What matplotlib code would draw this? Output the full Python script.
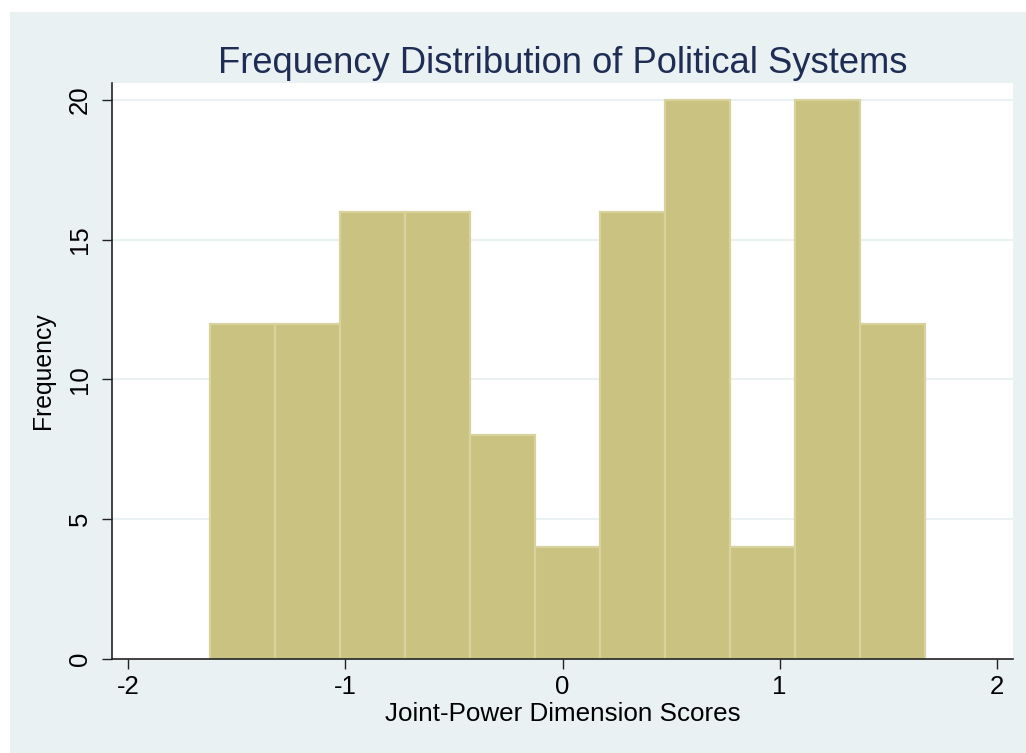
import numpy as np
import matplotlib
matplotlib.use("Agg")
import matplotlib.pyplot as plt
from matplotlib.patches import Rectangle

plt.rcParams['font.family'] = ['Liberation Sans', 'DejaVu Sans']

# Data
counts = [12, 12, 16, 16, 8, 4, 16, 20, 4, 20, 12]
bin_start = -1.623
bin_width = 0.2994
x_ticks = [-2, -1, 0, 1, 2]
y_ticks = [0, 5, 10, 15, 20]
title = "Frequency Distribution of Political Systems"
xlabel = "Joint-Power Dimension Scores"
ylabel = "Frequency"

edges = bin_start + bin_width * np.arange(len(counts) + 1)

W, H = 1026, 753
fig = plt.figure(figsize=(W / 100, H / 100), dpi=100)
fig.patch.set_facecolor('white')
bg = Rectangle((10 / W, 0), 1 - 10 / W, (H - 12) / H, transform=fig.transFigure,
               facecolor='#EAF1F3', edgecolor='none', zorder=-10)
fig.patches.append(bg)

ax = fig.add_axes([111.7 / W, (H - 658.7) / H, (1013 - 111.7) / W, (658.7 - 83) / H])
ax.set_zorder(1)
ax.set_facecolor('white')

ax.bar(edges[:-1], counts, width=bin_width, align='edge',
       color='#C9C281', edgecolor='#D8D39D', linewidth=1.6, zorder=2)

ax.set_xlim(-2.0765, 2.075)
ax.set_ylim(0, 20.61)
ax.set_xticks(x_ticks)
ax.set_xticklabels([str(t) for t in x_ticks])
ax.set_yticks(y_ticks)
ax.set_yticklabels([str(t) for t in y_ticks], rotation=90, va='center')

for y in y_ticks[1:]:
    ax.axhline(y, color='#EAF1F3', linewidth=1.5, zorder=1)

for s in ['top', 'right']:
    ax.spines[s].set_visible(False)
for s in ['left', 'bottom']:
    ax.spines[s].set_color('#222222')
    ax.spines[s].set_linewidth(1.2)
ax.spines['bottom'].set_zorder(3)

ax.tick_params(axis='x', direction='out', length=7, width=1.0, pad=5,
               labelsize=18.5, colors='#222222', labelcolor='black')
ax.tick_params(axis='y', direction='out', length=7.5, width=1.0, pad=7,
               labelsize=18.5, colors='#222222', labelcolor='black')

ax.set_xlabel(xlabel, fontsize=18.7, labelpad=2)
ax.set_ylabel(ylabel, fontsize=17.8, labelpad=9)
ax.set_title(title, fontsize=26.2, color='#1F2D55', pad=7)

fig.savefig('out.png', dpi=100, facecolor=fig.get_facecolor())
